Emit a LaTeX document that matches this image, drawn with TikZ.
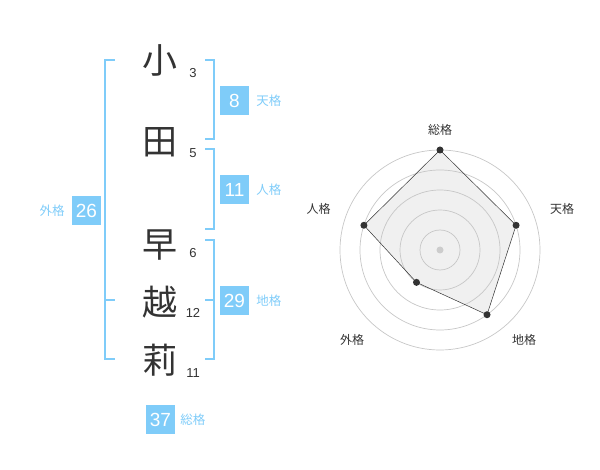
\documentclass[tikz,border=0pt]{standalone}
\usepackage{fontspec}
\setmainfont{Liberation Sans}
\newfontfamily\cjk{Noto Sans CJK JP}
\usetikzlibrary{positioning}
\definecolor{kakublue}{HTML}{7FCCF9}
\definecolor{ink}{HTML}{333333}

\begin{document}
\begin{tikzpicture}[x=1pt,y=-1pt,
    kanji/.style={font=\cjk\fontsize{35}{35}\selectfont,text=ink,inner sep=0pt},
    strokes/.style={font=\fontsize{13}{13}\selectfont,text=ink,inner sep=0pt},
    kakubox/.style={fill=kakublue,text=white,minimum size=29pt,inner sep=0pt,
      font=\fontsize{19}{19}\selectfont},
    kakuname/.style={text=kakublue,font=\cjk\fontsize{12.5}{12.5}\selectfont,inner sep=0pt},
    bracket/.style={draw=kakublue,line width=2pt},
    ring/.style={draw=black!22,line width=0.7pt},
    dot/.style={circle,fill=ink,inner sep=0pt,minimum size=7pt},
    axis/.style={text=ink,font=\cjk\fontsize{12}{12}\selectfont,inner sep=0pt}]

  \useasboundingbox (0,0) rectangle (600,470);

  % name characters and stroke counts
  \node[kanji] (k1) at (160,60)  {小};
  \node[kanji] (k2) at (160,142) {田};
  \node[kanji] (k3) at (160,245) {早};
  \node[kanji] (k4) at (160,302) {越};
  \node[kanji] (k5) at (160,360) {莉};
  \node[strokes] (n1) at (193,73)  {3};
  \node[strokes] (n2) at (193,153) {5};
  \node[strokes] (n3) at (193,253) {6};
  \node[strokes] (n4) at (193,313) {12};
  \node[strokes] (n5) at (193,373) {11};

  % brackets
  \draw[bracket] (115,60) -- (105,60) -- (105,359) -- (115,359);
  \draw[bracket] (105,300) -- (115,300);
  \draw[bracket] (205,60) -- (214,60) -- (214,139) -- (205,139);
  \draw[bracket] (205,149) -- (214,149) -- (214,229) -- (205,229);
  \draw[bracket] (205,240) -- (214,240) -- (214,359) -- (205,359);
  \draw[bracket] (205,300) -- (214,300);

  % scores
  \node[kakubox] (ten)  at (234.5,100.5) {8};
  \node[kakuname,right=7pt of ten]  {天格};
  \node[kakubox] (jin)  at (234.5,190)   {11};
  \node[kakuname,right=7pt of jin]  {人格};
  \node[kakubox] (chi)  at (234.5,300.5) {29};
  \node[kakuname,right=7pt of chi]  {地格};
  \node[kakubox] (gai)  at (86.5,210.5)  {26};
  \node[kakuname,left=7pt of gai]   {外格};
  \node[kakubox] (sou)  at (160.5,419.5) {37};
  \node[kakuname,right=5pt of sou]  {総格};

  % radar chart
  \coordinate (c) at (440,250);
  \path (c) ++(-90:100) coordinate (p1)
        (c) ++(-18:80)  coordinate (p2)
        (c) ++(54:80)   coordinate (p3)
        (c) ++(126:40)  coordinate (p4)
        (c) ++(198:80)  coordinate (p5);
  \fill[black!6] (p1) -- (p2) -- (p3) -- (p4) -- (p5) -- cycle;
  \foreach \r in {20,40,60,80,100}
    \draw[ring] (c) circle (\r);
  \fill[black!20] (c) circle (3.5);
  \draw[ink,line width=0.5pt] (p1) -- (p2) -- (p3) -- (p4) -- (p5) -- cycle;
  \foreach \p in {p1,p2,p3,p4,p5}
    \node[dot] at (\p) {};

  \node[axis] (a1) at (440,130)   {総格};
  \node[axis] (a2) at (562,208.5) {天格};
  \node[axis] (a3) at (524,340)   {地格};
  \node[axis] (a4) at (352,340)   {外格};
  \node[axis] (a5) at (318.5,208.5) {人格};

\end{tikzpicture}
\end{document}
